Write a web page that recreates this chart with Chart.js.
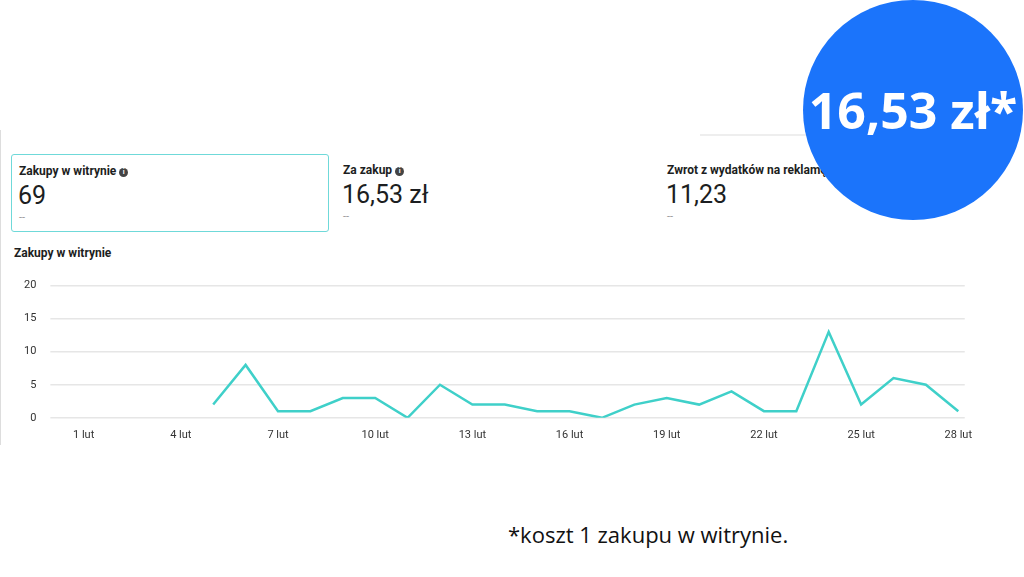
<!DOCTYPE html>
<html><head><meta charset="utf-8">
<script src="https://cdn.jsdelivr.net/npm/chart.js@4"></script>
<style>
body{margin:0;width:1024px;height:577px;background:#fff;position:relative;overflow:hidden;font-family:Roboto,sans-serif;color:#1c1e21}
.abs{position:absolute}
.card{position:absolute;top:154px;height:78px;box-sizing:border-box}
.lbl{font-size:12px;font-weight:bold;position:absolute;left:7px;top:9px}
.val{font-size:25px;position:absolute;left:6px;top:26px}
.dash{font-size:11px;color:#999;position:absolute;left:7px;top:56px}
.i{display:inline-block;width:9px;height:9px;border-radius:50%;background:#444;color:#fff;font-size:7px;text-align:center;line-height:9px;vertical-align:1px}
</style></head><body>
<div class="abs" style="left:0;top:130px;width:1px;height:315px;background:#ddd"></div>
<div class="abs" style="left:700px;top:134px;width:275px;height:2px;background:#eee"></div>
<div class="card" style="left:11px;width:318px;border:1.5px solid #6fd9d9;border-radius:3px"><div class="lbl">Zakupy w witrynie <span class="i">i</span></div><div class="val">69</div><div class="dash">--</div></div>
<div class="card" style="left:336px;width:310px"><div class="lbl">Za zakup <span class="i">i</span></div><div class="val">16,53 zł</div><div class="dash">--</div></div>
<div class="card" style="left:660px;width:315px"><div class="lbl">Zwrot z wydatków na reklamę</div><div class="val">11,23</div><div class="dash">--</div></div>
<div class="abs" style="left:14px;top:246px;font-size:12px;font-weight:bold">Zakupy w witrynie</div>
<div class="abs" style="left:10px;top:265px;width:965px;height:180px"><canvas id="c"></canvas></div>
<div class="abs" style="left:803px;top:0px;width:220px;height:220px;border-radius:50%;background:#1b74fb"></div>
<div class="abs" style="left:803px;top:76px;width:220px;text-align:center;color:#fff;font-size:50px;font-weight:bold;font-family:'Open Sans',sans-serif">16,53 zł*</div>
<div class="abs" style="left:508px;top:519px;font-size:22px;font-family:'Open Sans',sans-serif;color:#111">*koszt 1 zakupu w witrynie.</div>
<script>
const days=[5,6,7,8,9,10,11,12,13,14,15,16,17,18,19,20,21,22,23,24,25,26,27,28];
const purchases=[2,8,1,1,3,3,0,5,2,2,1,1,0,2,3,2,4,1,1,13,2,6,5,1];
const tickDays=[1,4,7,10,13,16,19,22,25,28];
const yTicks=[0,5,10,15,20];
new Chart(document.getElementById('c'),{type:'line',
data:{datasets:[{data:days.map((d,i)=>({x:d,y:purchases[i]})),borderColor:'#3fd0c9',borderWidth:2.5,pointRadius:0,tension:0}]},
options:{responsive:true,maintainAspectRatio:false,animation:false,
plugins:{legend:{display:false},tooltip:{enabled:false}},
layout:{padding:{top:8,right:0}},
scales:{x:{type:'linear',min:0.22,max:28.2,afterBuildTicks:s=>{s.ticks=tickDays.map(v=>({value:v}))},
 ticks:{callback:v=>v+' lut',color:'#333',font:{size:11,family:'Roboto'},maxRotation:0,autoSkip:false},grid:{display:false},border:{display:false}},
y:{min:0,max:20,afterBuildTicks:s=>{s.ticks=yTicks.map(v=>({value:v}))},ticks:{color:'#333',font:{size:11,family:'Roboto'},padding:14},grid:{color:'#e6e6e6',lineWidth:1.5},border:{display:false}}}}});
</script>
</body></html>
